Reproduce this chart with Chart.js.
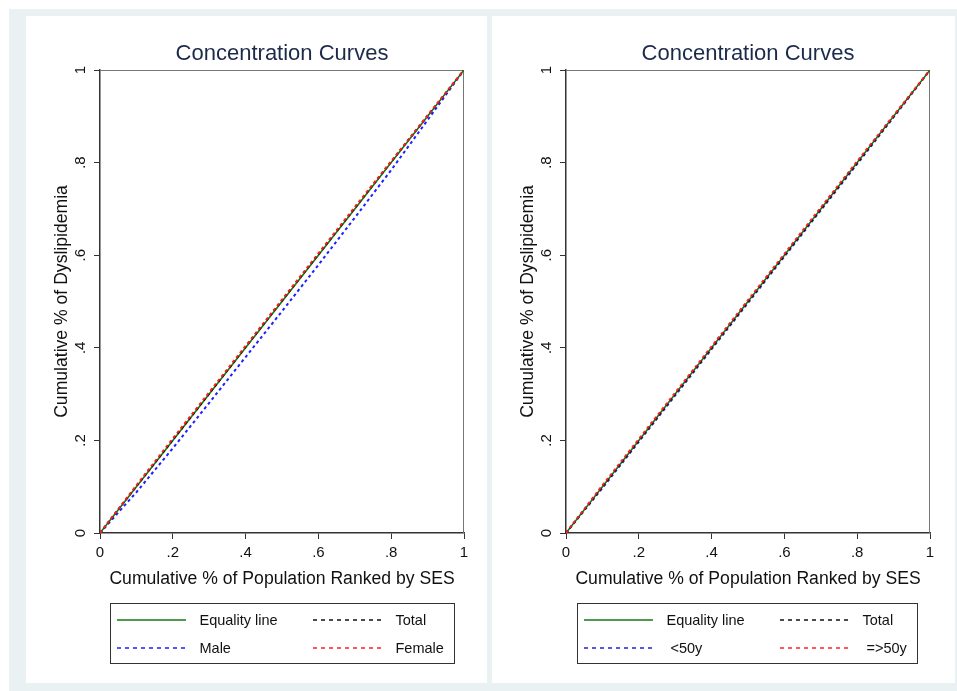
<!DOCTYPE html>
<html>
<head>
<meta charset="utf-8">
<script src="https://cdn.jsdelivr.net/npm/chart.js@4.4.0/dist/chart.umd.min.js"></script>
<style>
  body { margin: 0; background: #fff; font-family: "Liberation Sans", Arial, sans-serif; }
  #frame { position: absolute; left: 9px; top: 9px; width: 948px; height: 682px; background: #e9f1f2; }
  .panel { position: absolute; top: 16px; height: 667px; background: #fff; }
  .legend { position: absolute; top: 587px; height: 61px; border: 1.5px solid #333; box-sizing: border-box; font-size: 14.5px; color: #111; }
  .legend span { position: absolute; white-space: pre; line-height: 16px; }
  .legend svg { position: absolute; }
</style>
</head>
<body>
<div id="frame"></div>
<div class="panel" style="left:26px;width:461px">
  <canvas id="chartSex" width="461" height="667"></canvas>
  <div class="legend" id="legendSex" style="left:84px;width:345px"></div>
</div>
<div class="panel" style="left:492px;width:463px">
  <canvas id="chartAge" width="463" height="667"></canvas>
  <div class="legend" id="legendAge" style="left:85px;width:341px"></div>
</div>
<script>
// cumulative share of population, ranked by SES
const pop = [0, 0.1, 0.2, 0.3, 0.4, 0.5, 0.6, 0.7, 0.8, 0.9, 1];
const equality = [0, 0.1, 0.2, 0.3, 0.4, 0.5, 0.6, 0.7, 0.8, 0.9, 1];

// left panel: by sex
const totalSex = [0, 0.101, 0.201, 0.301, 0.402, 0.502, 0.602, 0.702, 0.802, 0.901, 1];
const male = [0, 0.088, 0.183, 0.281, 0.380, 0.479, 0.579, 0.681, 0.784, 0.892, 1];
const female = [0, 0.103, 0.204, 0.304, 0.404, 0.504, 0.604, 0.704, 0.803, 0.902, 1];

// right panel: by age
const totalAge = [0, 0.100, 0.200, 0.300, 0.400, 0.500, 0.600, 0.700, 0.800, 0.900, 1];
const under50 = [0, 0.097, 0.197, 0.297, 0.397, 0.497, 0.597, 0.697, 0.797, 0.898, 1];
const over50 = [0, 0.103, 0.203, 0.303, 0.403, 0.503, 0.603, 0.703, 0.803, 0.902, 1];

const tickLabels = ['0', '.2', '.4', '.6', '.8', '1'];
const tickText = v => tickLabels[Math.round(v * 5)];

const FONT = '"Liberation Sans", Arial, sans-serif';

// top/right frame of the plot region and rotated y tick labels (Stata style)
const stataFrame = {
  id: 'stataFrame',
  beforeDatasetsDraw(chart) {
    const { ctx, chartArea: a } = chart;
    ctx.save();
    ctx.strokeStyle = '#777';
    ctx.lineWidth = 1;
    ctx.beginPath();
    ctx.moveTo(a.left, a.top + 0.5);
    ctx.lineTo(a.right - 0.5, a.top + 0.5);
    ctx.lineTo(a.right - 0.5, a.bottom);
    ctx.stroke();
    ctx.restore();
  },
  afterDraw(chart) {
    const { ctx, chartArea: a, scales: { y } } = chart;
    ctx.save();
    ctx.fillStyle = '#111';
    ctx.font = '15px ' + FONT;
    ctx.textAlign = 'center';
    ctx.textBaseline = 'middle';
    y.ticks.forEach(t => {
      ctx.save();
      ctx.translate(a.left - 19, y.getPixelForValue(t.value));
      ctx.rotate(-Math.PI / 2);
      ctx.fillText(tickText(t.value), 0, 0);
      ctx.restore();
    });
    ctx.restore();
  }
};

const line = (label, values, color, dash, width, order) => ({
  label: label,
  data: pop.map((p, i) => ({ x: p, y: values[i] })),
  borderColor: color,
  borderWidth: width,
  borderDash: dash,
  pointRadius: 0,
  fill: false,
  tension: 0,
  order: order
});

const makePanel = function (canvasId, legendId, datasets, rightPad) {
  const config = {
    type: 'line',
    data: { datasets: datasets },
    options: {
      responsive: false,
      animation: false,
      layout: { padding: { top: 0, right: rightPad, bottom: 70, left: 0 } },
      plugins: {
        legend: { display: false },
        tooltip: { enabled: false },
        title: {
          display: true,
          text: 'Concentration Curves',
          fullSize: false,
          color: '#1c2a4a',
          font: { family: FONT, size: 22, weight: 'normal' },
          padding: { top: 24.8, bottom: 2.8 }
        }
      },
      scales: {
        x: {
          type: 'linear',
          min: 0,
          max: 1,
          ticks: { stepSize: 0.2, callback: tickText, color: '#111', font: { family: FONT, size: 15 }, padding: 5, maxRotation: 0 },
          grid: { drawOnChartArea: false, tickLength: 6, tickColor: '#333' },
          border: { color: '#333', width: 1.5 },
          title: { display: true, text: 'Cumulative % of Population Ranked by SES', color: '#111', font: { family: FONT, size: 17.6 }, padding: { top: 0, bottom: 23 } },
          afterFit: s => { s.height = 80; }
        },
        y: {
          type: 'linear',
          min: 0,
          max: 1,
          ticks: { stepSize: 0.2, display: false },
          grid: { drawOnChartArea: false, tickLength: 6, tickColor: '#333' },
          border: { color: '#333', width: 1.5 },
          title: { display: true, text: 'Cumulative % of Dyslipidemia', color: '#111', font: { family: FONT, size: 17.6 }, padding: { top: 26, bottom: 0 } },
          afterFit: s => { s.width = 74; }
        }
      }
    },
    plugins: [stataFrame]
  };
  new Chart(document.getElementById(canvasId), config);

  // legend: two columns, two rows, in a box
  const box = document.getElementById(legendId);
  const cols = [[5.5, 88.5], [201.5, 284.5]];
  const rows = [15.5, 43.5];
  datasets.forEach((ds, i) => {
    const [sx, tx] = cols[i % 2];
    const cy = rows[Math.floor(i / 2)];
    const dash = ds.borderDash.length ? 'stroke-dasharray="4 4"' : '';
    box.insertAdjacentHTML('beforeend',
      `<svg width="70" height="4" style="left:${sx}px;top:${cy - 2}px">` +
      `<line x1="0" y1="2" x2="69" y2="2" stroke="${ds.borderColor}" stroke-width="1.6" ${dash}/></svg>` +
      `<span style="left:${tx}px;top:${cy - 8}px">${ds.label.replace('<', '&lt;').replace('>', '&gt;')}</span>`);
  });
};

makePanel('chartSex', 'legendSex', [
  line('Equality line', equality, '#137a13', [], 1.6, 2),
  line('Total', totalSex, '#111111', [3, 3], 2, 1),
  line('Male', male, '#1f1fff', [3, 3], 2, 3),
  line('Female', female, '#ff1f1f', [3, 3], 2, 0)
], 23);

makePanel('chartAge', 'legendAge', [
  line('Equality line', equality, '#137a13', [], 1.6, 2),
  line('Total', totalAge, '#111111', [3, 3], 2, 1),
  line(' <50y', under50, '#2424d0', [3, 3], 2, 3),
  line(' =>50y', over50, '#ff1f1f', [3, 3], 2, 0)
], 25);
</script>
</body>
</html>
